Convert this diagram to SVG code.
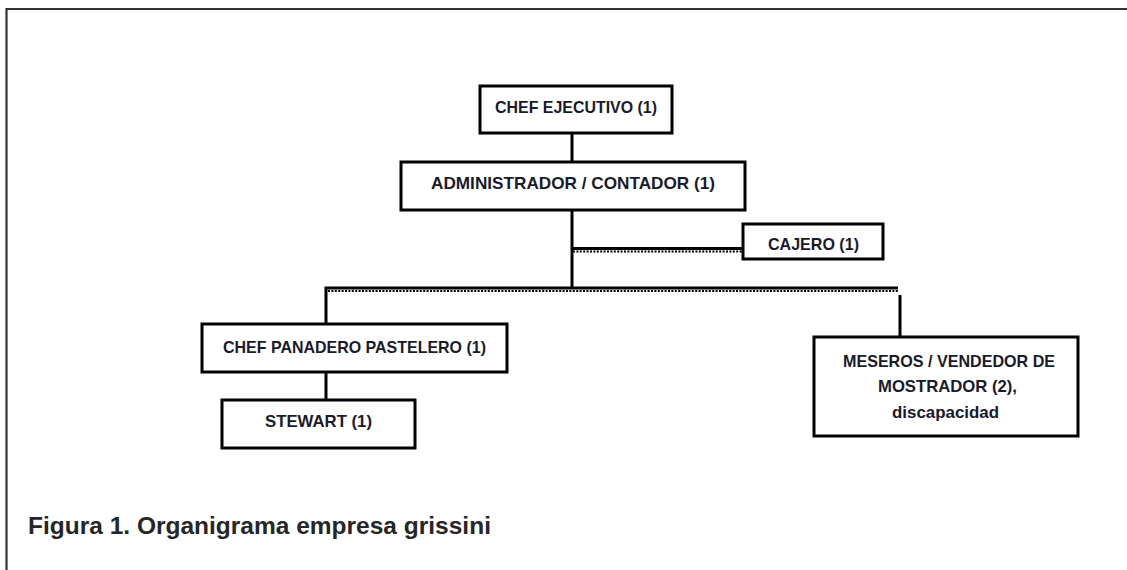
<svg xmlns="http://www.w3.org/2000/svg" width="1127" height="570" viewBox="0 0 1127 570">
<style>
.box{fill:#fff;stroke:#000;stroke-width:3}
.lbl{font-family:"Liberation Sans",Arial,sans-serif;font-weight:bold;font-size:17px;fill:#1a1a2a;text-anchor:middle}
.ln{stroke:#000;stroke-width:3;fill:none}
.ser{stroke:#000;stroke-width:2;stroke-dasharray:2 1.4;fill:none}
.cap{font-family:"Liberation Sans",Arial,sans-serif;font-weight:bold;font-size:24.5px;fill:#262626}
</style>
<rect width="1127" height="570" fill="#fff"/>
<path d="M6.5,570 V9 H1127" fill="none" stroke="#333" stroke-width="2.2"/>
<g id="connectors">
<path class="ln" d="M572,126 V162"/>
<path class="ln" d="M572,210 V288"/>
<path class="ln" d="M572,248.5 H743"/>
<path class="ser" d="M573,251.5 H743"/>
<path class="ln" d="M326,334 V288 H898"/>
<path class="ser" d="M328,291 H898"/>
<path class="ln" d="M900,295 V337"/>
<path class="ln" d="M326,366 V410"/>
</g>
<g id="chef-ejecutivo">
<rect class="box" x="480" y="86" width="192" height="47"/>
<text class="lbl" x="576" y="113" textLength="162" lengthAdjust="spacingAndGlyphs">CHEF EJECUTIVO (1)</text>
</g>
<g id="administrador">
<rect class="box" x="401" y="162" width="344" height="48"/>
<text class="lbl" x="573" y="189" textLength="284" lengthAdjust="spacingAndGlyphs">ADMINISTRADOR / CONTADOR (1)</text>
</g>
<g id="cajero">
<rect class="box" x="743" y="224" width="140" height="35"/>
<text class="lbl" x="813.5" y="250" textLength="91" lengthAdjust="spacingAndGlyphs">CAJERO (1)</text>
</g>
<g id="chef-panadero">
<rect class="box" x="202" y="324" width="305" height="48"/>
<text class="lbl" x="354.5" y="353" textLength="263" lengthAdjust="spacingAndGlyphs">CHEF PANADERO PASTELERO (1)</text>
</g>
<g id="stewart">
<rect class="box" x="222" y="400" width="193" height="48"/>
<text class="lbl" x="318.5" y="427" textLength="107" lengthAdjust="spacingAndGlyphs">STEWART (1)</text>
</g>
<g id="meseros">
<rect class="box" x="814" y="337" width="264" height="99"/>
<text class="lbl" x="949" y="367" textLength="212" lengthAdjust="spacingAndGlyphs">MESEROS / VENDEDOR DE</text>
<text class="lbl" x="947.5" y="392" textLength="139" lengthAdjust="spacingAndGlyphs">MOSTRADOR (2),</text>
<text class="lbl" x="945.5" y="418" textLength="107" lengthAdjust="spacingAndGlyphs" style="font-size:16px">discapacidad</text>
</g>
<text class="cap" x="28" y="534">Figura 1. Organigrama empresa grissini</text>
</svg>
